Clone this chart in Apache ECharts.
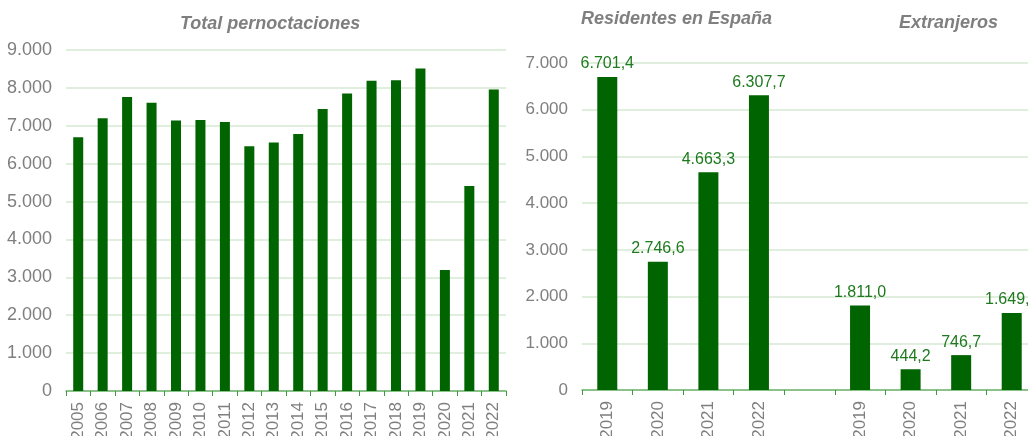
<!DOCTYPE html>
<html>
<head>
<meta charset="utf-8">
<script src="https://cdn.jsdelivr.net/npm/echarts@6/dist/echarts.min.js"></script>
<style>
  html, body { margin: 0; padding: 0; background: #fff; }
  #chart { width: 1028px; height: 436px; }
</style>
</head>
<body>
<div id="chart"></div>
<script>
// left panel: total overnight stays (thousands)
const years = ['2005', '2006', '2007', '2008', '2009', '2010', '2011', '2012', '2013',
  '2014', '2015', '2016', '2017', '2018', '2019', '2020', '2021', '2022']
const totalValues = [6700, 7200, 7760, 7610, 7140, 7150, 7100, 6460, 6560,
  6780, 7440, 7850, 8190, 8200, 8512.4, 3190.8, 5410.0, 7957.6]

// right panel: residents vs foreigners
const splitYears = ['2019', '2020', '2021', '2022']
const residentes = [6701.4, 2746.6, 4663.3, 6307.7]
const extranjeros = [1811.0, 444.2, 746.7, 1649.9]

const leftTicks = [0, 1000, 2000, 3000, 4000, 5000, 6000, 7000, 8000, 9000]
const rightTicks = [0, 1000, 2000, 3000, 4000, 5000, 6000, 7000]

const green = '#006400'
const gray = '#7f7f7f'
const font = '"Liberation Sans", Arial, sans-serif'

function fmtInt (v) {
  return String(Math.round(v)).replace(/\B(?=(\d{3})+(?!\d))/g, '.')
}
function fmtDec (v) {
  const parts = v.toFixed(1).split('.')
  return parts[0].replace(/\B(?=(\d{3})+(?!\d))/g, '.') + ',' + parts[1]
}

const rightCats = splitYears.concat([''], splitYears)
const rightData = residentes.concat([null], extranjeros)

const titleStyle = {
  color: gray,
  fontSize: 18,
  fontWeight: 'bold',
  fontStyle: 'italic',
  fontFamily: font
}

const catAxis = (idx, cats) => ({
  type: 'category',
  gridIndex: idx,
  data: cats,
  axisLine: { lineStyle: { color: '#6fb46f', width: 1.5 } },
  axisTick: { show: true, alignWithLabel: false, length: 5, lineStyle: { color: '#3c9a3c' } },
  axisLabel: {
    rotate: 90,
    color: gray,
    fontSize: 17,
    fontFamily: font,
    margin: 11,
    interval: 0
  }
})

const valAxis = (idx, ticks, size) => ({
  type: 'value',
  gridIndex: idx,
  min: ticks[0],
  max: ticks[ticks.length - 1],
  interval: 1000,
  axisLine: { show: false },
  axisTick: { show: false },
  splitLine: { lineStyle: { color: '#d6e9d2', width: 1.5 } },
  axisLabel: {
    color: gray,
    fontSize: size,
    fontFamily: font,
    margin: 14,
    formatter: fmtInt
  }
})

const option = {
  animation: false,
  backgroundColor: '#fff',
  title: [
    { text: 'Total pernoctaciones', left: 180, top: 15, padding: 0, textStyle: titleStyle },
    { text: 'Residentes en España', left: 581, top: 10, padding: 0, textStyle: titleStyle },
    { text: 'Extranjeros', left: 899, top: 14, padding: 0, textStyle: titleStyle }
  ],
  grid: [
    { left: 66, top: 50, width: 440, height: 341, outerBoundsMode: 'none' },
    { left: 582, top: 63, width: 455, height: 327, outerBoundsMode: 'none' }
  ],
  xAxis: [
    catAxis(0, years),
    catAxis(1, rightCats)
  ],
  yAxis: [
    valAxis(0, leftTicks, 18),
    valAxis(1, rightTicks, 17)
  ],
  series: [
    {
      name: 'Total pernoctaciones',
      type: 'bar',
      xAxisIndex: 0,
      yAxisIndex: 0,
      barWidth: 10,
      itemStyle: { color: green },
      data: totalValues
    },
    {
      name: 'Residentes / Extranjeros',
      type: 'bar',
      xAxisIndex: 1,
      yAxisIndex: 1,
      barWidth: 20,
      itemStyle: { color: green },
      label: {
        show: true,
        position: 'top',
        distance: 5,
        color: '#1f7a1f',
        fontSize: 16,
        fontFamily: font,
        formatter: p => fmtDec(p.value)
      },
      data: rightData
    }
  ]
}

const chart = echarts.init(document.getElementById('chart'))
chart.setOption(option)
</script>
</body>
</html>
